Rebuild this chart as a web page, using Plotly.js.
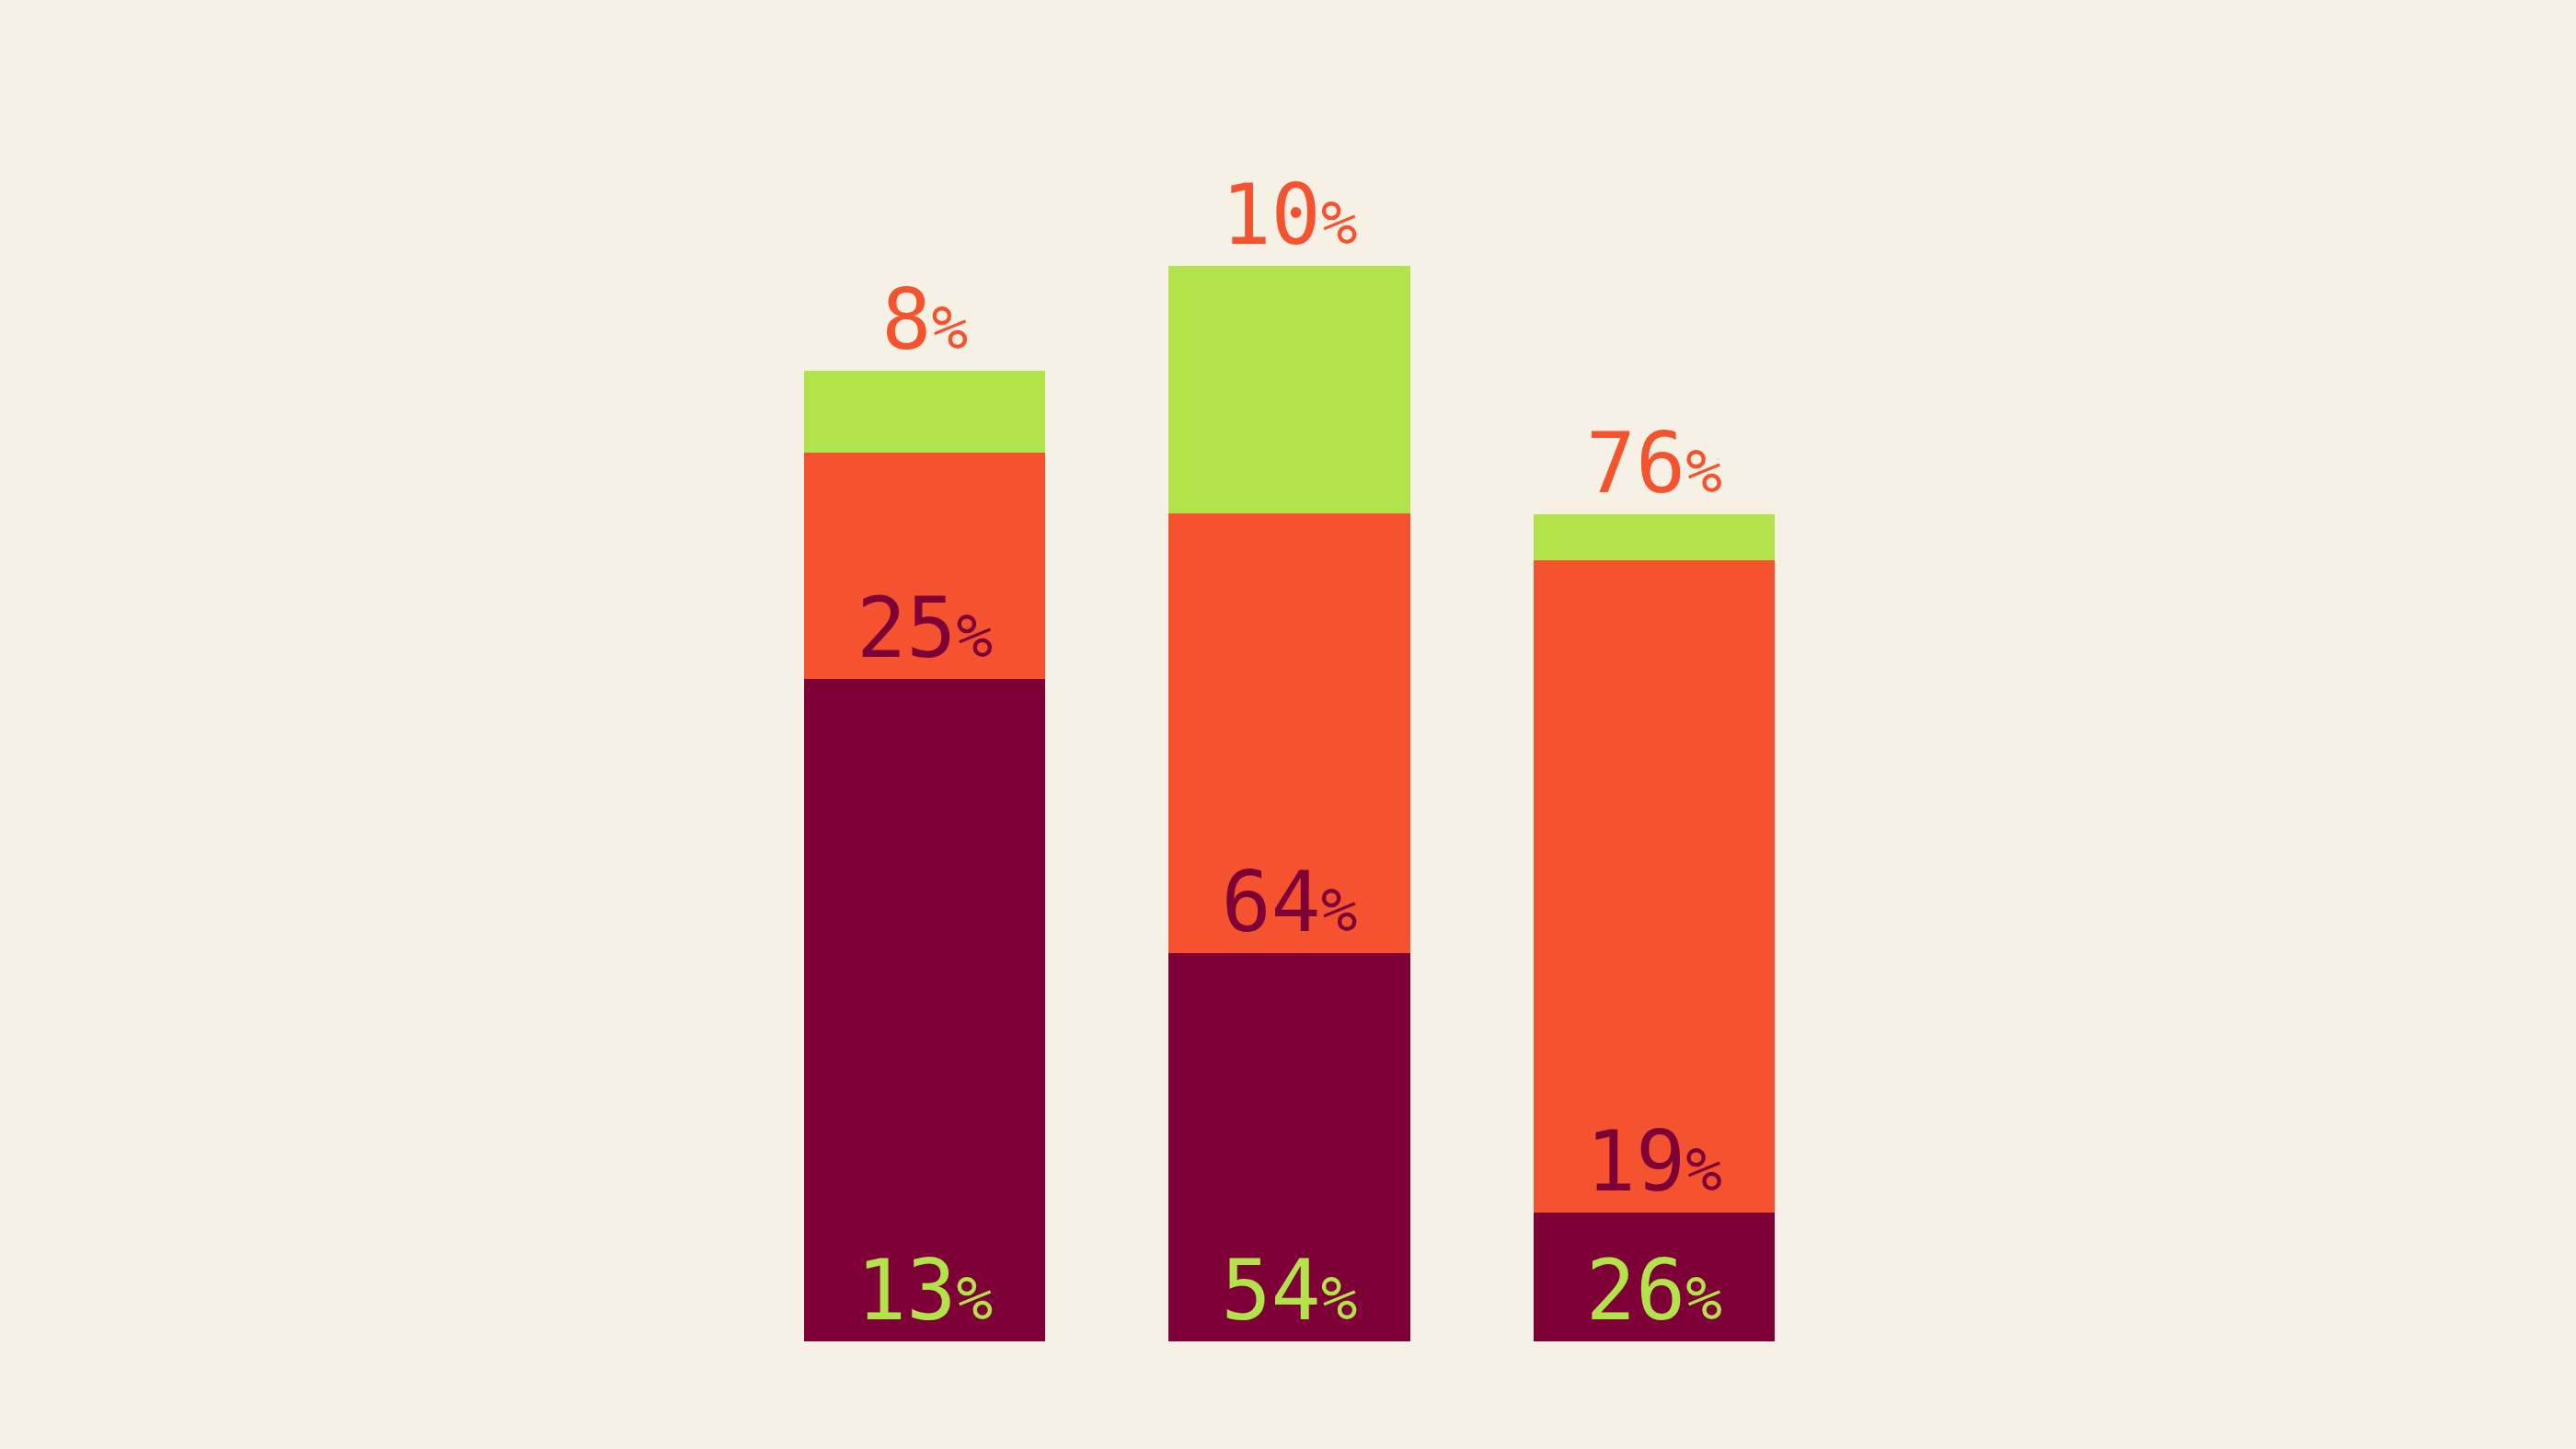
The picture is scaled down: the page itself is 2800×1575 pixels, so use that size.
<!DOCTYPE html>
<html>
<head>
<meta charset="utf-8">
<script src="https://cdn.plot.ly/plotly-3.0.1.min.js"></script>
<style>
  html, body { margin: 0; padding: 0; background: #f7f0e4; }
  #chart { width: 2800px; height: 1575px; }
</style>
</head>
<body>
<div id="chart"></div>
<script>
// Categories (no visible axis labels in the reference)
const categories = ["Group 1", "Group 2", "Group 3"];

// Segment heights (bottom to top)
const darkValues   = [53.0, 31.1, 10.3];
const orangeValues = [18.1, 35.2, 52.2];
const greenValues  = [6.6, 19.8, 3.7];

// Printed labels (numbers, shown with a small % sign)
const darkLabels   = ["13", "54", "26"];
const orangeLabels = ["25", "64", "19"];
const greenLabels  = ["8", "10", "76"];

const DARK = "#7d0037";
const ORANGE = "#f5532f";
const GREEN = "#b3e34a";
const BG = "#f7f0e4";
const FONT = "DejaVu Sans Mono, monospace";

const tmpl = "%{text}<span style='font-size:66px'>%</span>";

const common = {
  type: "bar",
  x: categories,
  texttemplate: tmpl,
  hoverinfo: "skip",
  cliponaxis: false,
  constraintext: "none",
  marker: { line: { width: 0 } }
};

const traces = [
  Object.assign({}, common, {
    name: "dark",
    y: darkValues,
    text: darkLabels,
    marker: { color: DARK, line: { width: 0 } },
    textposition: "inside",
    insidetextanchor: "start",
    textfont: { family: FONT, size: 90, color: GREEN }
  }),
  Object.assign({}, common, {
    name: "orange",
    y: orangeValues,
    text: orangeLabels,
    marker: { color: ORANGE, line: { width: 0 } },
    textposition: "inside",
    insidetextanchor: "start",
    textfont: { family: FONT, size: 90, color: DARK }
  }),
  Object.assign({}, common, {
    name: "green",
    y: greenValues,
    text: greenLabels,
    marker: { color: GREEN, line: { width: 0 } },
    textposition: "outside",
    textfont: { family: FONT, size: 90, color: ORANGE }
  })
];

const layout = {
  width: 2800,
  height: 1575,
  paper_bgcolor: BG,
  plot_bgcolor: BG,
  barmode: "stack",
  bargap: 0.338,
  showlegend: false,
  margin: { l: 807, r: 804, t: 100, b: 117, pad: 0 },
  xaxis: {
    type: "category",
    range: [-0.5, 2.5],
    autorange: false,
    showticklabels: false,
    showgrid: false,
    zeroline: false,
    showline: false,
    ticks: ""
  },
  yaxis: {
    range: [0, 100],
    autorange: false,
    showticklabels: false,
    showgrid: false,
    zeroline: false,
    showline: false,
    ticks: ""
  },
  font: { family: FONT }
};

Plotly.newPlot("chart", traces, layout, { staticPlot: true, displayModeBar: false });
</script>
</body>
</html>
